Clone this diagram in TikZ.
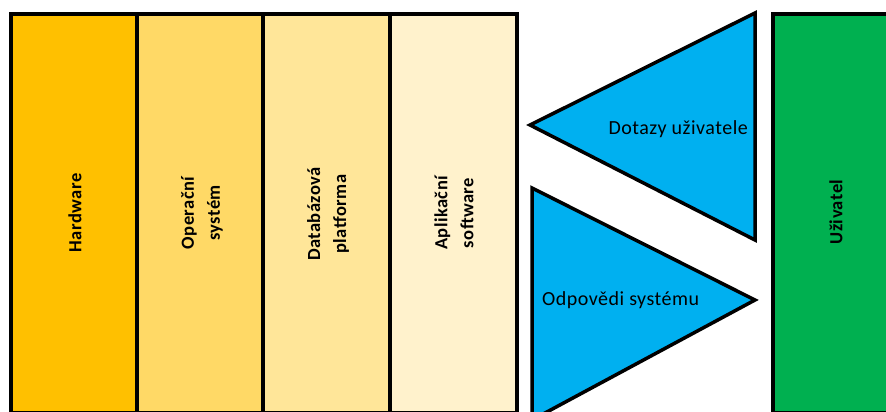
\documentclass[tikz,border=0pt]{standalone}
\usepackage{fontspec}
\setmainfont{Carlito}
\newfontfamily\spacedfont[LetterSpace=2.5]{Carlito}
\usetikzlibrary{positioning}
\definecolor{hwcol}{HTML}{FFC000}
\definecolor{oscol}{HTML}{FFD966}
\definecolor{dbcol}{HTML}{FFE699}
\definecolor{appcol}{HTML}{FFF2CC}
\definecolor{usercol}{HTML}{00B050}
\definecolor{flowcol}{HTML}{00B0F0}

\begin{document}
\begin{tikzpicture}[x=1pt,y=-1pt,
  layer/.style={draw=black,line width=3.5pt},
  vlabel/.style={rotate=90,align=center,inner sep=0pt,font=\spacedfont\bfseries\fontsize{18.5}{26}\selectfont},
  flowlabel/.style={inner sep=0pt,font=\spacedfont\fontsize{20}{22}\selectfont}]
\useasboundingbox (0,0) rectangle (886,412);
%\draw [help lines] (0,0) grid[step=50] (886,412);
% layers
\draw [layer,fill=hwcol] (11,14) rectangle (137,412.5);
\draw [layer,fill=oscol] (137,14) rectangle (263,412.5);
\draw [layer,fill=dbcol] (263,14) rectangle (390,412.5);
\draw [layer,fill=appcol] (390,14) rectangle (517,412.5);
\draw [layer,fill=usercol] (773,14) rectangle (900,412.5);
% flows
\draw [layer,fill=flowcol,line join=miter] (530,125) -- (755,13) -- (755,240) -- cycle;
\draw [layer,fill=flowcol,line join=miter] (532,188) -- (755,300) -- (532,420) -- cycle;
\node [vlabel] (hw) at (75,213) {Hardware};
\node [vlabel] (os) at (202,213) {Operační\\systém};
\node [vlabel] (db) at (328,214) {Databázová\\platforma};
\node [vlabel] (app) at (454,213) {Aplikační\\software};
\node [vlabel] (user) at (836,212) {Uživatel};
\node [flowlabel,anchor=east] (query) at (748,129) {Dotazy uživatele};
\node [flowlabel,anchor=west] (answer) at (542,300) {Odpovědi systému};
\end{tikzpicture}
\end{document}
